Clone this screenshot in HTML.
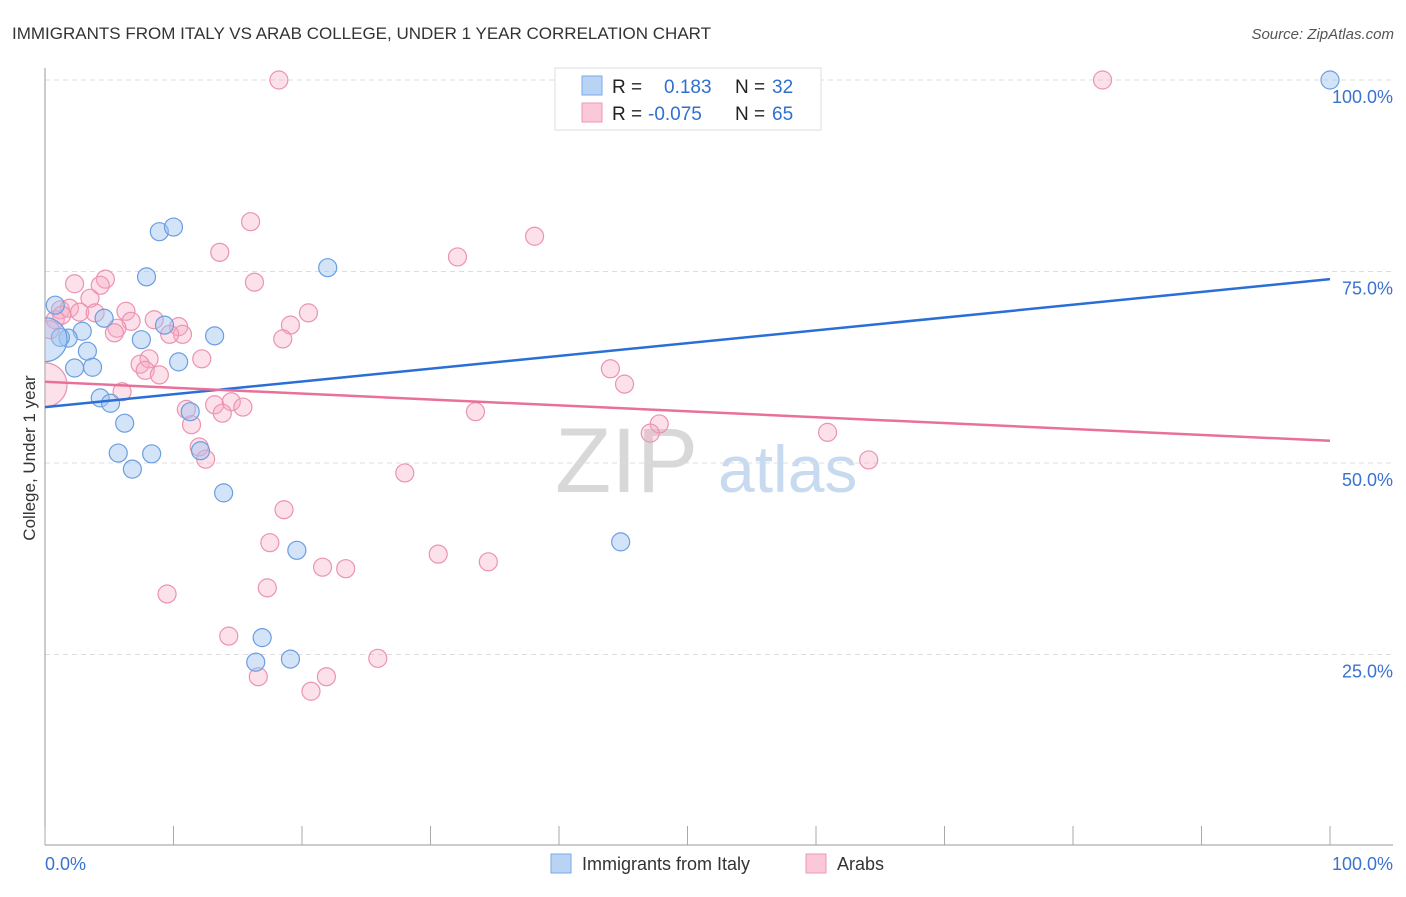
<!DOCTYPE html>
<html><head><meta charset="utf-8"><style>
body{margin:0;background:#fff;font-family:"Liberation Sans",sans-serif;}
svg text{font-family:"Liberation Sans",sans-serif;}
</style></head><body>
<svg id="c" width="1406" height="892" xmlns="http://www.w3.org/2000/svg">
<defs><clipPath id="plotclip"><rect x="45" y="60" width="1360" height="786"/></clipPath></defs>
<text x="12" y="39" font-size="17" fill="#333">IMMIGRANTS FROM ITALY VS ARAB COLLEGE, UNDER 1 YEAR CORRELATION CHART</text>
<text x="1394" y="39" font-size="15" fill="#555" font-style="italic" text-anchor="end">Source: ZipAtlas.com</text>
<g>
<text x="555" y="492" font-size="92" fill="#d8d8d8" font-family="Liberation Serif, serif">ZIP</text>
<text x="718" y="492" font-size="66" fill="#c8daf0">atlas</text>
</g>
<g id="grid"></g>
<g id="axes"></g>
<g id="marks" clip-path="url(#plotclip)"></g>
<g id="lines"></g>
<text x="35" y="458" font-size="17" fill="#333" text-anchor="middle" transform="rotate(-90 35 458)">College, Under 1 year</text>
<g>
<rect x="555" y="68" width="266" height="62" fill="#fff" stroke="#ddd"/>
<rect x="582" y="76" width="20" height="19" fill="#b9d3f5" stroke="#7aa8e6"/>
<rect x="582" y="103" width="20" height="19" fill="#fbc8d8" stroke="#ee9ab5"/>
<text x="612" y="93" font-size="19" fill="#222">R = <tspan x="664" fill="#2f6fd0">0.183</tspan><tspan x="735" fill="#222">N = </tspan><tspan x="772" fill="#2f6fd0">32</tspan></text>
<text x="612" y="120" font-size="19" fill="#222">R = <tspan x="648" fill="#2f6fd0">-0.075</tspan><tspan x="735" fill="#222">N = </tspan><tspan x="772" fill="#2f6fd0">65</tspan></text>
</g>
<g>
<rect x="551" y="854" width="20" height="19" fill="#b9d3f5" stroke="#7aa8e6"/>
<text x="582" y="870" font-size="18" fill="#333">Immigrants from Italy</text>
<rect x="806" y="854" width="20" height="19" fill="#fbc8d8" stroke="#ee9ab5"/>
<text x="837" y="870" font-size="18" fill="#333">Arabs</text>
</g>
</svg>
<script>
const yTicks=[25,50,75,100];
const yTickLabels=["25.0%","50.0%","75.0%","100.0%"];
const xTickCount=10;
const xLabels=["0.0%","100.0%"];
const italyX=[100,8.9,10.0,7.9,22.0,0.8,2.9,1.8,1.2,4.6,9.3,7.5,13.2,3.3,2.3,3.7,10.4,4.3,5.1,6.2,5.7,8.3,6.8,11.3,12.1,13.9,19.6,44.8,16.9,16.4,19.1,0];
const italyY=[100,80.2,80.8,74.3,75.5,70.6,67.2,66.3,66.4,68.9,68.0,66.1,66.6,64.6,62.4,62.5,63.2,58.5,57.8,55.2,51.3,51.2,49.2,56.7,51.6,46.1,38.6,39.7,27.2,24.0,24.4,66.1];
const arabX=[18.2,82.3,16.0,38.1,13.6,32.1,16.3,2.3,4.7,4.3,3.5,1.2,1.9,2.7,3.9,20.5,6.3,6.7,5.6,5.4,8.5,10.4,10.7,9.7,19.1,18.5,12.2,8.1,7.4,7.8,8.9,44.0,45.1,0,6.0,11.0,11.4,13.2,14.5,15.4,13.8,33.5,47.8,47.1,60.9,64.1,12.0,12.5,28.0,18.6,17.5,30.6,34.5,21.6,23.4,9.5,17.3,14.3,25.9,16.6,21.9,20.7,0.8,1.3,0.4];
const arabY=[100,100,81.5,79.6,77.5,76.9,73.6,73.4,74.0,73.2,71.5,70.0,70.2,69.7,69.6,69.6,69.8,68.5,67.6,67.0,68.7,67.8,66.8,66.8,68.0,66.2,63.6,63.6,62.9,62.1,61.5,62.3,60.3,60.2,59.3,57.0,55.0,57.6,58.0,57.3,56.5,56.7,55.1,53.9,54.0,50.4,52.1,50.5,48.7,43.9,39.6,38.1,37.1,36.4,36.2,32.9,33.7,27.4,24.5,22.1,22.1,20.2,68.7,69.3,67.4];
const italyBig=[31];
const arabBig=[33];
const italyTrend=[57.3,74.0];
const arabTrend=[60.6,52.9];

const X0=45,X1=1330,Y0=846,Y100=80;
const sx=v=>X0+(X1-X0)*v/100;
const sy=v=>Y0-(Y0-Y100)*v/100;
const NS="http://www.w3.org/2000/svg";
function mk(tag,attrs,parent){const e=document.createElementNS(NS,tag);for(const k in attrs)e.setAttribute(k,attrs[k]);document.getElementById(parent).appendChild(e);return e;}

yTicks.forEach((t,i)=>{
  const g=mk('line',{x1:X0,x2:1393,y1:sy(t),y2:sy(t),stroke:'#ddd','stroke-dasharray':'5,4'},'grid');
  
  
  const l=mk('text',{x:1393,y:sy(t)+23,'font-size':18,fill:'#3a72d0','text-anchor':'end'},'axes');
  l.textContent=yTickLabels[i];
  
  
});
const la=mk('line',{x1:X0,x2:X0,y1:68,y2:845,stroke:'#999'},'axes');


const ba=mk('line',{x1:X0,x2:1393,y1:845,y2:845,stroke:'#999'},'axes');


for(let i=0;i<=xTickCount;i++){
  const t=mk('line',{x1:sx(i*100/xTickCount),x2:sx(i*100/xTickCount),y1:826,y2:845,stroke:'#aaa'},'axes');
  
  
}
const xl0=mk('text',{x:X0,y:870,'font-size':18,fill:'#3a72d0'},'axes');
xl0.textContent=xLabels[0];


const xl1=mk('text',{x:1393,y:870,'font-size':18,fill:'#3a72d0','text-anchor':'end'},'axes');
xl1.textContent=xLabels[1];



arabX.forEach((v,i)=>{
  const c=mk('circle',{cx:sx(v),cy:sy(arabY[i]),r:arabBig.includes(i)?22:9,fill:'rgba(246,168,196,0.35)',stroke:'#eb93b1','stroke-width':1.2},'marks');
  
  
});
italyX.forEach((v,i)=>{
  const c=mk('circle',{cx:sx(v),cy:sy(italyY[i]),r:italyBig.includes(i)?22:9,fill:'rgba(160,196,240,0.45)',stroke:'#6a9ee0','stroke-width':1.2},'marks');
  
  
});
const tb=mk('line',{x1:sx(0),x2:sx(100),y1:sy(italyTrend[0]),y2:sy(italyTrend[1]),stroke:'#2a6fd6','stroke-width':2.5},'lines');


const tp=mk('line',{x1:sx(0),x2:sx(100),y1:sy(arabTrend[0]),y2:sy(arabTrend[1]),stroke:'#e8709a','stroke-width':2.5},'lines');


</script>
</body></html>
